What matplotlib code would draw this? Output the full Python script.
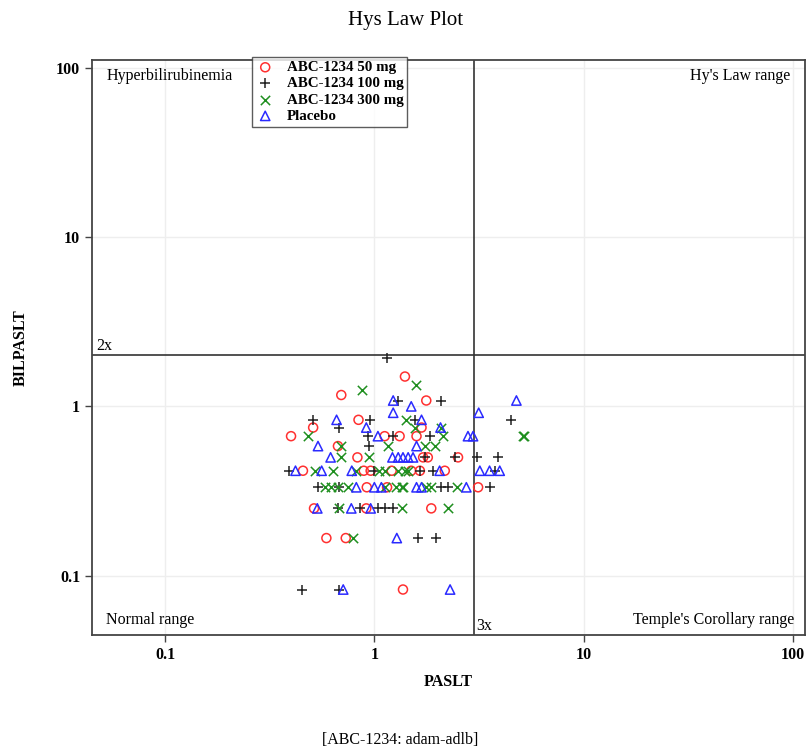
import matplotlib
matplotlib.use("Agg")
import matplotlib.pyplot as plt
import numpy as np

plt.rcParams['font.family'] = ['Liberation Serif', 'DejaVu Serif']

# ALT ratio (PASLT) and bilirubin ratio (BILPASLT) per treatment group
alt_50 = [1.40, 0.695, 1.77, 0.84, 0.51, 1.68, 0.40, 1.12, 1.32, 1.59, 0.67, 0.83, 1.71, 1.80,
          2.51, 0.456, 0.89, 0.96, 1.21, 1.50, 1.65, 2.17, 0.92, 1.15, 3.13, 0.515, 0.915, 1.87,
          0.59, 0.73, 1.37]
bil_50 = [1.5, 1.167, 1.083, 0.833, 0.75, 0.75, 0.667, 0.667, 0.667, 0.667, 0.583, 0.5, 0.5, 0.5,
          0.5, 0.417, 0.417, 0.417, 0.417, 0.417, 0.417, 0.417, 0.333, 0.333, 0.333, 0.25, 0.25, 0.25,
          0.167, 0.167, 0.083]

alt_100 = [1.15, 1.30, 2.09, 0.51, 0.95, 1.56, 4.48, 0.68, 0.93, 1.23, 1.84, 0.94, 1.75, 2.42,
           3.10, 3.90, 0.39, 1.0, 1.66, 1.91, 3.76, 0.54, 0.68, 2.09, 2.25, 3.55, 0.67, 0.85,
           1.04, 1.12, 1.23, 1.62, 1.98, 0.45, 0.68]
bil_100 = [1.917, 1.083, 1.083, 0.833, 0.833, 0.833, 0.833, 0.75, 0.667, 0.667, 0.667, 0.583, 0.5, 0.5,
           0.5, 0.5, 0.417, 0.417, 0.417, 0.417, 0.417, 0.333, 0.333, 0.333, 0.333, 0.333, 0.25, 0.25,
           0.25, 0.25, 0.25, 0.167, 0.167, 0.083, 0.083]

alt_300 = [1.58, 0.87, 1.42, 1.56, 2.07, 0.48, 2.13, 5.15, 5.2, 0.69, 1.16, 1.74, 1.94, 0.695,
           0.94, 0.52, 0.635, 0.82, 1.05, 1.12, 1.30, 1.40, 1.45, 0.58, 0.62, 0.67, 0.75, 1.12,
           1.27, 1.35, 1.37, 1.77, 1.87, 2.47, 0.68, 1.35, 2.25, 0.79]
bil_300 = [1.333, 1.25, 0.833, 0.75, 0.75, 0.667, 0.667, 0.667, 0.667, 0.583, 0.583, 0.583, 0.583, 0.5,
           0.5, 0.417, 0.417, 0.417, 0.417, 0.417, 0.417, 0.417, 0.417, 0.333, 0.333, 0.333, 0.333, 0.333,
           0.333, 0.333, 0.333, 0.333, 0.333, 0.333, 0.25, 0.25, 0.25, 0.167]

alt_pbo = [1.23, 4.77, 1.50, 1.23, 3.15, 0.66, 1.68, 0.915, 2.07, 1.04, 2.80, 2.96, 0.538, 1.59,
           0.618, 1.22, 1.30, 1.37, 1.45, 1.53, 0.42, 0.56, 0.78, 2.05, 3.19, 3.55, 3.97, 0.82,
           1.0, 1.08, 1.59, 1.68, 2.75, 0.534, 0.776, 0.96, 1.28, 0.71, 2.30]
bil_pbo = [1.083, 1.083, 1.0, 0.917, 0.917, 0.833, 0.833, 0.75, 0.75, 0.667, 0.667, 0.667, 0.583, 0.583,
           0.5, 0.5, 0.5, 0.5, 0.5, 0.5, 0.417, 0.417, 0.417, 0.417, 0.417, 0.417, 0.417, 0.333,
           0.333, 0.333, 0.333, 0.333, 0.333, 0.25, 0.25, 0.25, 0.167, 0.083, 0.083]

ticks = [0.1, 1, 10, 100]
tick_labels = ['0.1', '1', '10', '100']

fig = plt.figure(figsize=(8.07, 7.48), dpi=100)
ax = fig.add_axes([0.114, 0.151, 0.8835, 0.769])

ax.scatter(alt_50, bil_50, marker='o', s=42, facecolors='none', edgecolors='#ff3030', linewidths=1.1,
           label='ABC-1234 50 mg', zorder=3)
ax.scatter(alt_100, bil_100, marker='+', s=55, c='#202020', linewidths=1.1,
           label='ABC-1234 100 mg', zorder=3)
ax.scatter(alt_300, bil_300, marker='x', s=45, c='#1f8f1f', linewidths=1.1,
           label='ABC-1234 300 mg', zorder=3)
ax.scatter(alt_pbo, bil_pbo, marker='^', s=45, facecolors='none', edgecolors='#2a2aff', linewidths=1.1,
           label='Placebo', zorder=3)

ax.set_xscale('log')
ax.set_yscale('log')
ax.set_xlim(0.0448, 114)
ax.set_ylim(0.0447, 111)
ax.set_xticks(ticks)
ax.set_xticklabels(tick_labels)
ax.set_yticks(ticks)
ax.set_yticklabels(tick_labels)
ax.minorticks_off()
ax.tick_params(labelsize=11.5, length=5, width=1, color='#444444')
for lab in ax.get_xticklabels() + ax.get_yticklabels():
    lab.set_fontweight('bold')
ax.grid(True, color='#eeeeee', linewidth=1)
ax.set_axisbelow(True)
for sp in ax.spines.values():
    sp.set_color('#444444')
    sp.set_linewidth(1.3)

ax.axvline(3, color='#333333', linewidth=1.2, zorder=2)
ax.axhline(2, color='#333333', linewidth=1.2, zorder=2)

qfs = 11.5
ax.text(0.02, 0.985, 'Hyperbilirubinemia', transform=ax.transAxes, ha='left', va='top', fontsize=qfs)
ax.text(0.98, 0.985, "Hy's Law range", transform=ax.transAxes, ha='right', va='top', fontsize=qfs)
ax.text(0.02, 0.012, 'Normal range', transform=ax.transAxes, ha='left', va='bottom', fontsize=qfs)
ax.text(0.985, 0.012, "Temple's Corollary range", transform=ax.transAxes, ha='right', va='bottom', fontsize=qfs)
ax.text(0.047, 2.04, '2x', ha='left', va='bottom', fontsize=qfs)
ax.text(3.08, 0.0455, '3x', ha='left', va='bottom', fontsize=qfs)

ax.set_xlabel('PASLT', fontsize=11.5, fontweight='bold', labelpad=8)
ax.set_ylabel('BILPASLT', fontsize=11.5, fontweight='bold', labelpad=20)

leg = ax.legend(loc='upper left', bbox_to_anchor=(0.224, 1.005), fontsize=10.8, frameon=True,
                fancybox=False, edgecolor='#333333', handletextpad=0.8, borderpad=0.25,
                labelspacing=0.18, handlelength=1.3, borderaxespad=0)
leg.get_frame().set_linewidth(1)
for t in leg.get_texts():
    t.set_fontweight('bold')

fig.text(0.502, 0.972, 'Hys Law Plot', ha='center', va='center', fontsize=15)
fig.text(0.496, 0.011, '[ABC-1234: adam-adlb]', ha='center', va='center', fontsize=11.5)

fig.savefig('out.png', dpi=100)
